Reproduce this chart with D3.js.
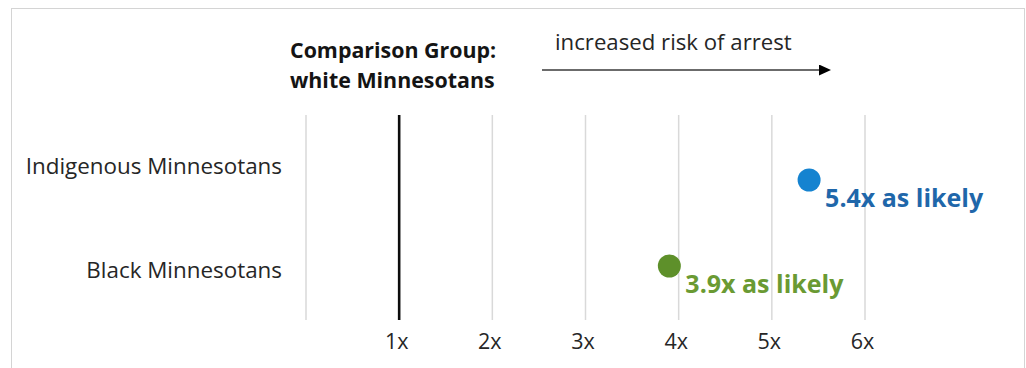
<!DOCTYPE html>
<html>
<head>
<meta charset="utf-8">
<script src="https://cdn.jsdelivr.net/npm/d3@7"></script>
<style>
  html, body { margin: 0; padding: 0; background: #fff; }
  svg { display: block; }
  text { font-family: "Open Sans", "Noto Sans", sans-serif; }
</style>
</head>
<body>
<svg id="chart" width="1026" height="368"></svg>
<script>
// Groups compared against white Minnesotans (ratio of arrest likelihood)
const categories = ["Indigenous Minnesotans", "Black Minnesotans"];
const ratios = [5.4, 3.9];
const valueLabels = ["5.4x as likely", "3.9x as likely"];
const dotColors = ["#1583d0", "#5e902a"];
const labelColors = ["#1f67aa", "#6a9a33"];

// Axis: vertical gridlines and tick labels
const gridValues = [0, 1, 2, 3, 4, 5, 6];
const tickValues = [1, 2, 3, 4, 5, 6];
const tickLabels = ["1x", "2x", "3x", "4x", "5x", "6x"];
const referenceValue = 1;

const titleLines = ["Comparison Group:", "white Minnesotans"];
const arrowCaption = "increased risk of arrest";

const svg = d3.select("#chart");

// Panel frame
svg.append("rect")
  .attr("x", 11.5).attr("y", 8.5)
  .attr("width", 1013).attr("height", 380)
  .attr("fill", "#fff")
  .attr("stroke", "#d4d4d4")
  .attr("stroke-width", 1);

const x = d3.scaleLinear().domain([0, 6]).range([306, 865]);
const plotTop = 115, plotBottom = 320;

// Dot rows and label rows
const yDot = d3.scalePoint().domain(categories).range([180, 266]);
const yLabel = d3.scalePoint().domain(categories).range([166, 270]);

// Gridlines
svg.append("g").selectAll("line")
  .data(gridValues.filter(v => v !== referenceValue))
  .join("line")
  .attr("x1", d => x(d)).attr("x2", d => x(d))
  .attr("y1", plotTop).attr("y2", plotBottom)
  .attr("stroke", "#d9d9d9")
  .attr("stroke-width", 1.5);

// Reference line at 1x
svg.append("line")
  .attr("x1", x(referenceValue)).attr("x2", x(referenceValue))
  .attr("y1", plotTop).attr("y2", plotBottom)
  .attr("stroke", "#0d0d0d")
  .attr("stroke-width", 2.6);

// Tick labels
const axis = d3.axisBottom(x)
  .tickValues(tickValues)
  .tickFormat((d, i) => tickLabels[i])
  .tickSize(0)
  .tickPadding(0);
const axisG = svg.append("g")
  .attr("transform", `translate(-3, ${plotBottom + 29})`)
  .call(axis);
axisG.select(".domain").remove();
axisG.selectAll("text")
  .attr("dy", null)
  .attr("y", 0)
  .attr("fill", "#262626")
  .style("font-family", "\"Open Sans\", sans-serif")
  .style("font-size", "21.5px");

// Category labels
svg.append("g").selectAll("text")
  .data(categories)
  .join("text")
  .attr("x", 282)
  .attr("y", d => yLabel(d))
  .attr("dy", "0.35em")
  .attr("text-anchor", "end")
  .attr("fill", "#262626")
  .style("font-size", "22.4px")
  .text(d => d);

// Comparison group title
svg.append("g").selectAll("text")
  .data(titleLines)
  .join("text")
  .attr("x", 290)
  .attr("y", (d, i) => 58 + i * 30)
  .attr("fill", "#141414")
  .style("font-size", "21.4px")
  .style("font-weight", 700)
  .text(d => d);

// Direction arrow
svg.append("defs").append("marker")
  .attr("id", "arrowhead")
  .attr("viewBox", "0 0 12 11")
  .attr("refX", 0).attr("refY", 5.5)
  .attr("markerWidth", 12).attr("markerHeight", 11)
  .attr("markerUnits", "userSpaceOnUse")
  .attr("orient", "auto")
  .append("path")
  .attr("d", "M0,0 L12,5.5 L0,11 Z")
  .attr("fill", "#000");

svg.append("line")
  .attr("x1", 542).attr("x2", 819)
  .attr("y1", 70).attr("y2", 70)
  .attr("stroke", "#3a3a3a")
  .attr("stroke-width", 1.4)
  .attr("marker-end", "url(#arrowhead)");

svg.append("text")
  .attr("x", 555).attr("y", 50)
  .attr("fill", "#262626")
  .style("font-size", "22.2px")
  .text(arrowCaption);

// Dots
svg.append("g").selectAll("circle")
  .data(categories)
  .join("circle")
  .attr("cx", (d, i) => x(ratios[i]))
  .attr("cy", d => yDot(d))
  .attr("r", 11.5)
  .attr("fill", (d, i) => dotColors[i]);

// Value labels
svg.append("g").selectAll("text")
  .data(categories)
  .join("text")
  .attr("x", (d, i) => x(ratios[i]) + 16)
  .attr("y", d => yDot(d) + 27)
  .attr("fill", (d, i) => labelColors[i])
  .style("font-size", "25px")
  .style("font-weight", 700)
  .text((d, i) => valueLabels[i]);
</script>
</body>
</html>
